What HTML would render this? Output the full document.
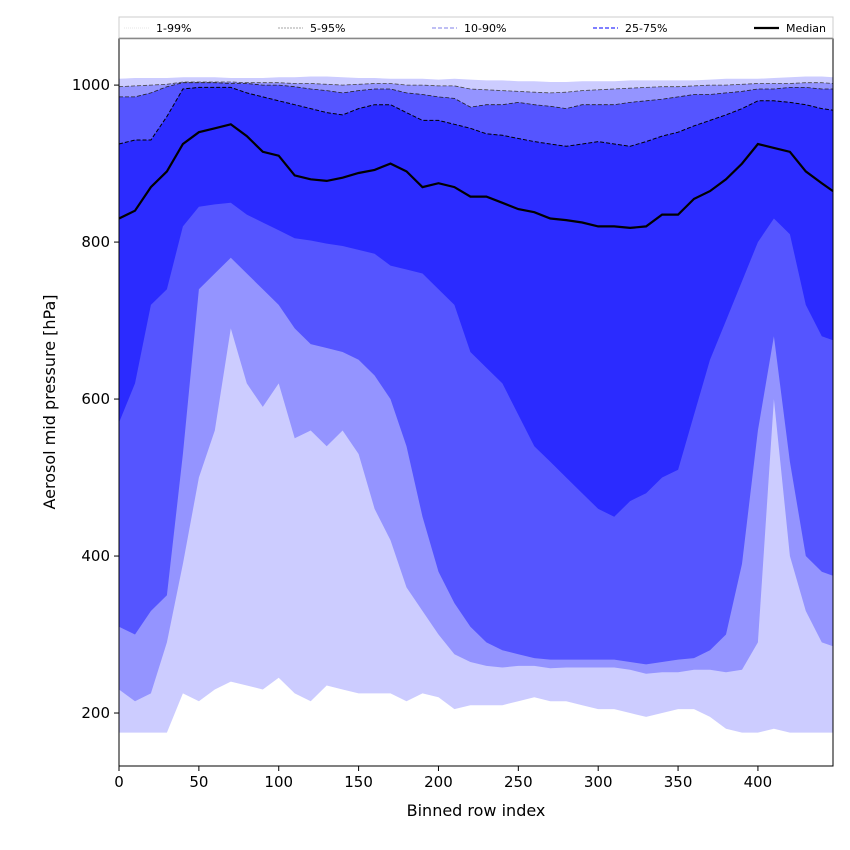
<!DOCTYPE html>
<html><head><meta charset="utf-8"><style>
body{margin:0;background:#fff;}
svg{display:block;font-family:"DejaVu Sans","Liberation Sans",sans-serif;}
</style></head><body>
<svg id="chart" width="850" height="850" viewBox="0 0 850 850"></svg>
<script>
const xs=[0,10,20,30,40,50,60,70,80,90,100,110,120,130,140,150,160,170,180,190,200,210,220,230,240,250,260,270,280,290,300,310,320,330,340,350,360,370,380,390,400,410,420,430,440,447];
const p1=[175,175,175,175,225,215,230,240,235,230,245,225,215,235,230,225,225,225,215,225,220,205,210,210,210,215,220,215,215,210,205,205,200,195,200,205,205,195,180,175,175,180,175,175,175,175];
const p5=[230,215,225,290,390,500,560,690,620,590,620,550,560,540,560,530,460,420,360,330,300,275,265,260,258,260,260,257,258,258,258,258,255,250,252,252,255,255,252,255,290,600,400,330,290,285];
const p10=[310,300,330,350,530,740,760,780,760,740,720,690,670,665,660,650,630,600,540,450,380,340,310,290,280,275,270,268,268,268,268,268,265,262,265,268,270,280,300,390,560,680,520,400,380,375];
const p25=[570,620,720,740,820,845,848,850,835,825,815,805,802,798,795,790,785,770,765,760,740,720,660,640,620,580,540,520,500,480,460,450,470,480,500,510,580,650,700,750,800,830,810,720,680,675];
const med=[830,840,870,890,925,940,945,950,935,915,910,885,880,878,882,888,892,900,890,870,875,870,858,858,850,842,838,830,828,825,820,820,818,820,835,835,855,865,880,900,925,920,915,890,875,865];
const p75=[925,930,930,960,995,997,997,997,990,985,980,975,970,965,962,970,975,975,965,955,955,950,945,938,936,932,928,925,922,925,928,925,922,928,935,940,948,955,962,970,980,980,978,975,970,968];
const p90=[985,985,990,998,1003,1003,1003,1002,1002,1000,1000,998,995,993,990,993,995,995,990,988,985,983,972,975,975,978,975,973,970,975,975,975,978,980,982,985,988,988,990,992,995,995,997,997,995,995];
const p95=[998,999,1000,1001,1004,1004,1004,1004,1003,1003,1003,1002,1002,1001,1000,1001,1002,1002,1000,1000,999,999,995,994,993,992,991,990,991,993,994,995,996,997,998,998,999,1000,1000,1001,1002,1002,1002,1003,1003,1002];
const p99=[1008,1009,1009,1009,1010,1010,1010,1009,1009,1009,1010,1010,1011,1011,1010,1009,1009,1008,1008,1008,1007,1008,1007,1006,1006,1005,1005,1004,1004,1005,1005,1005,1006,1006,1006,1006,1006,1007,1008,1008,1008,1009,1010,1011,1011,1010];
const xTicks=[0,50,100,150,200,250,300,350,400];
const yTicks=[200,400,600,800,1000];

const L=119,R=833,T=38,B=766;
const xMin=0,xMax=447,yMin=132.5,yMax=1060;
const X=v=>L+(v-xMin)/(xMax-xMin)*(R-L);
const Y=v=>B-(v-yMin)/(yMax-yMin)*(B-T);
const svg=document.getElementById('chart');
const NS='http://www.w3.org/2000/svg';
function mk(tag,attrs){const e=document.createElementNS(NS,tag);for(const k in attrs)e.setAttribute(k,attrs[k]);svg.appendChild(e);return e;}
function line(arr){return xs.map((x,i)=>X(x).toFixed(1)+','+Y(arr[i]).toFixed(1)).join(' ');}
function band(lo,hi,color,name){
  const pts=xs.map((x,i)=>X(x).toFixed(1)+','+Y(hi[i]).toFixed(1));
  for(let i=xs.length-1;i>=0;i--)pts.push(X(xs[i]).toFixed(1)+','+Y(lo[i]).toFixed(1));
  const p=mk('polygon',{points:pts.join(' '),fill:color});
  
  
}
band(p1,p99,'#ccccff','band-1-99');
band(p5,p95,'#9494ff','band-5-95');
band(p10,p90,'#5555ff','band-10-90');
band(p25,p75,'#2b2bff','band-25-75');
[[p95,'#444',0.8,'line-p95'],[p90,'#222',0.8,'line-p90'],[p75,'#000',1,'line-p75']].forEach(([a,c,w,n])=>{
  const pl=mk('polyline',{points:line(a),fill:'none',stroke:c,'stroke-width':w,'stroke-dasharray':'4,2'});
  
  
});
const ml=mk('polyline',{points:line(med),fill:'none',stroke:'#000','stroke-width':2.2});


const fr=mk('rect',{x:L,y:T,width:R-L,height:B-T,fill:'none',stroke:'#000','stroke-width':1});


xTicks.forEach(t=>{
  mk('line',{x1:X(t),x2:X(t),y1:B,y2:B+5,stroke:'#000'});
  const tx=mk('text',{x:X(t),y:B+21,'text-anchor':'middle','font-size':15});
  tx.textContent=t;
  
  
});
yTicks.forEach(t=>{
  mk('line',{x1:L-5,x2:L,y1:Y(t),y2:Y(t),stroke:'#000'});
  const tx=mk('text',{x:L-9,y:Y(t)+5,'text-anchor':'end','font-size':15});
  tx.textContent=t;
  
  
});
const xl=mk('text',{x:(L+R)/2,y:816,'text-anchor':'middle','font-size':16});
xl.textContent='Binned row index';


const yl=mk('text',{x:55,y:(T+B)/2,'text-anchor':'middle','font-size':16,transform:`rotate(-90 55 ${(T+B)/2})`});
yl.textContent='Aerosol mid pressure [hPa]';


const lg=mk('rect',{x:L,y:17,width:R-L,height:21,fill:'#fff',stroke:'#ccc','stroke-width':1});


mk('line',{x1:L,x2:R,y1:38.5,y2:38.5,stroke:'#888','stroke-width':1.5});
const entries=[['1-99%',124,'#ddd','1,1',0.8],['5-95%',278,'#888','2,1',0.8],['10-90%',432,'#9999ee','4,2',1.2],['25-75%',593,'#5555ff','4,2',1.5],['Median',754,'#000','',2.2]];
entries.forEach(([lab,x,c,d,w])=>{
  const l=mk('line',{x1:x,x2:x+25,y1:28,y2:28,stroke:c,'stroke-width':w});
  if(d)l.setAttribute('stroke-dasharray',d);
  const t=mk('text',{x:x+32,y:32,'font-size':11});
  t.textContent=lab;
  
  
});
</script>
</body></html>
